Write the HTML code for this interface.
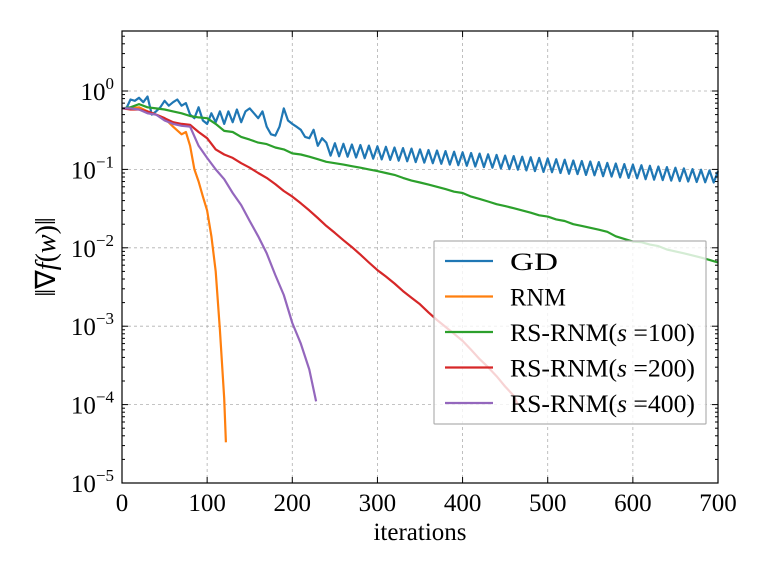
<!DOCTYPE html>
<html><head><meta charset="utf-8"><style>
body{margin:0;background:#fff}
svg{display:block;font-family:"Liberation Serif",serif}
</style></head><body>
<svg id="chart" width="768" height="576" viewBox="0 0 768 576" xmlns="http://www.w3.org/2000/svg">
<g id="grid"></g>
<g id="series"></g>
<g id="axes"></g>
<g id="legend"></g>
</svg>
<script>
const xTicks=[0,100,200,300,400,500,600,700];
const yExps=[0,-1,-2,-3,-4,-5];
const gdHead=[[0,0.6],[5,0.6],[10,0.78],[15,0.75],[20,0.82],[25,0.72],[30,0.85],[35,0.5],[40,0.55],[45,0.62],[50,0.75],[55,0.65],[60,0.72],[65,0.78],[70,0.65],[75,0.7],[80,0.5],[85,0.45],[90,0.62],[95,0.42],[100,0.38],[105,0.52],[110,0.4],[115,0.55],[120,0.38],[125,0.55],[130,0.4],[135,0.58],[140,0.4],[145,0.55],[150,0.6],[155,0.52],[160,0.45],[165,0.55],[170,0.35],[175,0.28],[180,0.27],[185,0.35],[190,0.6],[195,0.42],[200,0.38],[205,0.35],[210,0.32],[215,0.26],[220,0.25],[225,0.32],[230,0.2],[235,0.25]];
const gdHi=[0.22,0.216,0.212,0.208,0.205,0.201,0.197,0.194,0.19,0.187,0.184,0.18,0.177,0.174,0.171,0.168,0.165,0.162,0.159,0.156,0.153,0.15,0.148,0.145,0.143,0.14,0.138,0.135,0.133,0.13,0.128,0.126,0.124,0.121,0.119,0.117,0.115,0.113,0.111,0.109,0.107,0.105,0.103,0.101,0.099,0.097,0.095];
const gdLo=[0.15,0.147,0.145,0.142,0.139,0.137,0.134,0.132,0.129,0.127,0.124,0.122,0.12,0.118,0.115,0.113,0.111,0.109,0.107,0.105,0.103,0.101,0.099,0.097,0.095,0.093,0.092,0.09,0.088,0.087,0.085,0.084,0.082,0.081,0.079,0.078,0.077,0.075,0.074,0.073,0.072,0.071,0.07,0.069,0.0685,0.068];
const rnm=[[0,0.6],[10,0.6],[20,0.62],[30,0.55],[40,0.5],[50,0.45],[60,0.35],[70,0.28],[75,0.3],[80,0.2],[85,0.1],[90,0.07],[95,0.045],[100,0.03],[105,0.014],[110,0.005],[115,0.0009],[120,0.00012],[122,0.000033]];
const rs100=[0.6,0.62,0.68,0.62,0.6,0.58,0.55,0.52,0.48,0.46,0.45,0.38,0.31,0.3,0.26,0.24,0.22,0.21,0.19,0.18,0.16,0.155,0.145,0.135,0.125,0.12,0.115,0.11,0.105,0.1,0.095,0.09,0.085,0.078,0.072,0.068,0.064,0.06,0.056,0.052,0.05,0.045,0.042,0.039,0.036,0.034,0.032,0.03,0.028,0.026,0.025,0.023,0.022,0.02,0.019,0.018,0.017,0.016,0.014,0.013,0.012,0.0118,0.011,0.0105,0.0095,0.009,0.0085,0.008,0.0075,0.007,0.0065];
const rs200=[0.6,0.58,0.58,0.55,0.5,0.45,0.4,0.38,0.37,0.3,0.25,0.18,0.155,0.14,0.12,0.105,0.09,0.078,0.065,0.053,0.045,0.037,0.03,0.024,0.019,0.0155,0.0125,0.0102,0.0082,0.0065,0.0052,0.0043,0.0035,0.0028,0.0023,0.0019,0.0015,0.0012,0.00098,0.0008,0.00065,0.0005,0.00038,0.0003,0.00023,0.00017,0.00013,0.0001];
const rs400=[[0,0.6],[10,0.6],[20,0.58],[30,0.52],[40,0.5],[50,0.42],[60,0.38],[70,0.36],[80,0.35],[90,0.2],[100,0.14],[110,0.1],[120,0.075],[130,0.05],[140,0.035],[150,0.022],[160,0.014],[170,0.0085],[180,0.0045],[190,0.0025],[200,0.0011],[210,0.0006],[220,0.00028],[228,0.00011]];
const legendLabels=["GD","RNM","RS-RNM(s =100)","RS-RNM(s =200)","RS-RNM(s =400)"];
const colors=["#1f77b4","#ff7f0e","#2ca02c","#d62728","#9467bd"];

const L=122,R=718,T=31,B=483,Y0=91,DEC=78.4;
const X=v=>L+v*(R-L)/700;
const Y=v=>Y0-Math.log10(v)*DEC;
const NS="http://www.w3.org/2000/svg";
function mk(tag,attrs,parent){const e=document.createElementNS(NS,tag);for(const k in attrs)e.setAttribute(k,attrs[k]);parent.appendChild(e);return e;}
const grid=document.getElementById('grid'),axes=document.getElementById('axes'),ser=document.getElementById('series'),leg=document.getElementById('legend');
mk('rect',{x:L,y:T,width:R-L,height:B-T,fill:'#fff'},grid);
xTicks.forEach(t=>{const g=mk('line',{x1:X(t),x2:X(t),y1:T,y2:B,stroke:'#b0b0b0','stroke-width':0.8,'stroke-dasharray':'3,3'},grid);
});
yExps.forEach(e=>{const g=mk('line',{x1:L,x2:R,y1:Y(Math.pow(10,e)),y2:Y(Math.pow(10,e)),stroke:'#b0b0b0','stroke-width':0.8,'stroke-dasharray':'3,3'},grid);
});

function line(pts,color,name){const p=mk('polyline',{points:pts.map(q=>X(q[0]).toFixed(1)+','+Y(q[1]).toFixed(1)).join(' '),fill:'none',stroke:color,'stroke-width':2.2,'stroke-linejoin':'round'},ser);
}
const gd=gdHead.slice();
for(let i=0;i<gdHi.length;i++){gd.push([240+10*i,gdHi[i]]);if(i<gdLo.length)gd.push([245+10*i,gdLo[i]]);}
line(gd,colors[0],'gd-line');
line(rnm,colors[1],'rnm-line');
line(rs100.map((v,i)=>[i*10,v]),colors[2],'rs-rnm-100-line');
line(rs200.map((v,i)=>[Math.min(i*10,465),v]),colors[3],'rs-rnm-200-line');
line(rs400,colors[4],'rs-rnm-400-line');

mk('rect',{x:L,y:T,width:R-L,height:B-T,fill:'none',stroke:'#000','stroke-width':1.2},axes);
xTicks.forEach(t=>{mk('line',{x1:X(t),x2:X(t),y1:B,y2:B-6,stroke:'#000'},axes);mk('line',{x1:X(t),x2:X(t),y1:T,y2:T+6,stroke:'#000'},axes);
const tx=mk('text',{x:X(t),y:B+28,'text-anchor':'middle','font-size':25},axes);tx.textContent=t;
});
for(let e=-5;e<=0;e++){for(let m=1;m<10;m++){const v=m*Math.pow(10,e);const y=Y(v);if(y<T)continue;const len=m==1?6:3;
mk('line',{x1:L,x2:L+len,y1:y,y2:y,stroke:'#000'},axes);mk('line',{x1:R,x2:R-len,y1:y,y2:y,stroke:'#000'},axes);}}
for(let m=2;m<6;m++){const y=Y(m*10);if(y>T){mk('line',{x1:L,x2:L+3,y1:y,y2:y,stroke:'#000'},axes);mk('line',{x1:R,x2:R-3,y1:y,y2:y,stroke:'#000'},axes);}}
yExps.forEach(e=>{const tx=mk('text',{x:L-8,y:Y(Math.pow(10,e))+9,'text-anchor':'end','font-size':25},axes);
tx.innerHTML='10<tspan dy="-11" font-size="17">'+(e<0?'−'+(-e):e)+'</tspan>';
});
const xl=mk('text',{x:(L+R)/2,y:540,'text-anchor':'middle','font-size':25},axes);xl.textContent='iterations';

const yl=mk('text',{x:0,y:0,'text-anchor':'middle','font-size':28,transform:'translate(55,257) rotate(-90)'},axes);
yl.innerHTML='‖∇<tspan font-style="italic">f</tspan>(<tspan font-style="italic">w</tspan>)‖';


mk('rect',{x:434,y:241,width:272,height:183,fill:'#fff','fill-opacity':0.8,stroke:'#b0b0b0','stroke-width':1.2,rx:1},leg);
legendLabels.forEach((lab,i)=>{const y=261+i*35.5;
const l=mk('line',{x1:445,x2:493,y1:y,y2:y,stroke:colors[i],'stroke-width':2.2},leg);

const t=mk('text',{x:510,y:y+9,'font-size':25,textLength:lab.length>3?185:(lab=='GD'?48:56),lengthAdjust:'spacingAndGlyphs'},leg);
t.innerHTML=lab.replace('(s ','(<tspan font-style="italic">s</tspan> ');
});
</script>
</body></html>
